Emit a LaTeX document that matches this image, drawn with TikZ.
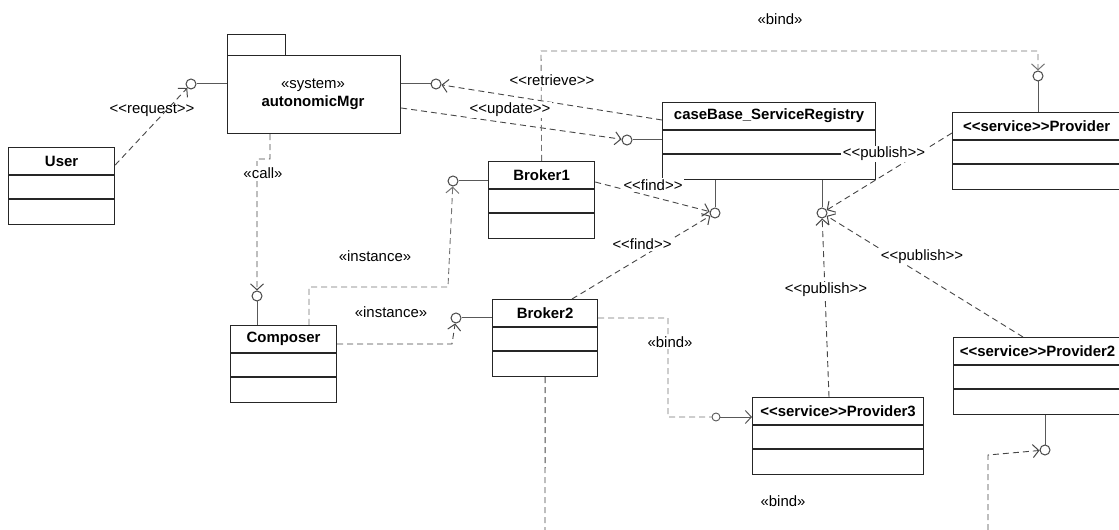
\documentclass[tikz,border=0pt]{standalone}
\usepackage{fontspec}
\setmainfont{Liberation Sans}
\usetikzlibrary{arrows.meta,calc}
\newcommand\stL{\textless\kern0pt\textless\kern0pt}
\newcommand\stR{\kern0pt\textgreater\kern0pt\textgreater}
\tikzset{
  box/.style={draw=black!85, line width=1.2bp, fill=white, rectangle, inner sep=0pt, anchor=north west},
  sepline/.style={draw=black!85, line width=1.2bp},
  ttl/.style={font=\fontsize{15}{18}\selectfont\bfseries, inner sep=0pt},
  lbl/.style={inner sep=1.5bp},
  wlbl/.style={fill=white, inner sep=1.5bp},
  dep/.style={draw=black!72, dash pattern=on 6bp off 4bp, line width=0.9bp},
  depl/.style={draw=black!55, dash pattern=on 6bp off 4bp, line width=0.9bp},
  lol/.style={draw=black!65, line width=1bp},
  ball/.style={circle, draw=black!72, line width=1bp, fill=white, minimum size=10bp, inner sep=0pt},
  sball/.style={circle, draw=black!65, line width=0.9bp, fill=white, minimum size=8bp, inner sep=0pt},
  barb/.style={-{Straight Barb[length=6bp,width=13bp,line width=1bp]}}
}
\newcommand\umlcls[5]{%
  \node[box, minimum width=#4bp, minimum height=77bp] (#1) at (#2,#3) {};
  \draw[sepline] ([yshift=-28bp]#1.north west) -- ([yshift=-28bp]#1.north east);
  \draw[sepline] ([yshift=-52bp]#1.north west) -- ([yshift=-52bp]#1.north east);
  \node[ttl] (#1-t) at ([yshift=-14bp]#1.north) {#5};
}
\begin{document}
\begin{tikzpicture}[x=1bp, y=-1bp, font=\fontsize{15}{18}\selectfont]
\clip (0,0) rectangle (1119,530);
\fill[white] (0,0) rectangle (1119,530);

% ---------- classes ----------
\umlcls{user}{8}{147}{106}{User}
\umlcls{composer}{230}{325}{106}{Composer}
\umlcls{broker1}{488}{161}{106}{Broker1}
\umlcls{broker2}{492}{299}{105}{Broker2}
\umlcls{cb}{662}{102}{213}{caseBase\_ServiceRegistry}
\umlcls{prov}{952}{112}{168}{\stL service\stR Provider}
\umlcls{prov2}{953}{337}{168}{\stL service\stR Provider2}
\umlcls{prov3}{752}{397}{171}{\stL service\stR Provider3}

% ---------- package ----------
\node[box, minimum width=58bp, minimum height=21bp] (amgrTab) at (227,34) {};
\node[box, minimum width=173bp, minimum height=78bp] (amgr) at (227,55) {};
\node[lbl] (amgrS) at (313,85) {«system»};
\node[ttl] (amgrT) at (313,103) {autonomicMgr};

% ---------- lollipops ----------
\node[ball] (bReq) at (191,84) {};
\node[ball] (bRet) at (436,84) {};
\node[ball] (bUpd) at (627,140) {};
\node[ball] (bB1) at (453,181) {};
\node[ball] (bB2) at (456,318) {};
\node[ball] (bCall) at (257,296) {};
\node[ball] (bProv) at (1038,76) {};
\node[ball] (bFind) at (715,213) {};
\node[ball] (bPub) at (822,213) {};
\node[ball] (bP2) at (1045,450) {};
\node[sball] (bBind) at (716,417) {};

\draw[lol] (bReq) -- (bReq -| amgr.west);
\draw[lol] (bRet) -- (bRet -| amgr.east);
\draw[lol] (bUpd) -- (bUpd -| cb.west);
\draw[lol] (bB1) -- (bB1 -| broker1.west);
\draw[lol] (bB2) -- (bB2 -| broker2.west);
\draw[lol] (bCall) -- (bCall |- composer.north);
\draw[lol] (bProv) -- (bProv |- prov.north);
\draw[lol] (bFind) -- (bFind |- cb.south);
\draw[lol] (bPub) -- (bPub |- cb.south);
\draw[lol] (bP2) -- (bP2 |- prov2.south);

% ---------- coordinates for bends / free ends ----------
\coordinate (callA) at (270,159);
\coordinate (i1) at (448,287);
\coordinate (i2) at (452,344);
\coordinate (bt1) at (541,51);
\coordinate (bt2) at (1038,51);
\coordinate (bd1) at (668,318);
\coordinate (bd2) at (668,417);
\coordinate (b3a) at (988,540);
\coordinate (b3b) at (988,455);
\coordinate (b2end) at (545,540);

% ---------- connectors ----------
\draw[dep, barb] ([yshift=-18bp]user.north east) -- (bReq);
\draw[dep, barb] ([xshift=43bp]amgr.south west) -- (callA) -| (bCall);
\draw[depl, barb] ([xshift=79bp]composer.north west) |- (i1) -- (bB1);
\draw[dep, barb] ([yshift=-19bp]composer.north east) -- (i2) -- (bB2);
\draw[dep, barb] ([yshift=-18bp]cb.north west) -- (bRet);
\draw[dep, barb] ([yshift=-53bp]amgr.north east) -- (bUpd);
\draw[depl, barb] (broker1.north) -- (bt1) -- (bt2) -- (bProv);
\draw[dep, barb] ([yshift=-21bp]broker1.north east) -- (bFind);
\draw[dep, barb] ([xshift=80bp]broker2.north west) -- (bFind);
\draw[dep, barb] ([yshift=-21bp]prov.north west) -- (bPub);
\draw[dep, barb] ([xshift=77bp]prov3.north west) -- (bPub);
\draw[dep, barb] ([xshift=70bp]prov2.north west) -- (bPub);
\draw[depl] ([yshift=-19bp]broker2.north east) -- (bd1) -- (bd2) -- (bBind);
\draw[lol, barb] (bBind) -- (bBind -| prov3.west);
\draw[dep, barb] (b3a) -- (b3b) -- (bP2);
\draw[dep] (broker2.south) -- (b2end);

% ---------- labels ----------
\node[lbl] (lBindTop) at (780,19) {«bind»};
\node[lbl] (lReq) at (152,110) {\stL request\stR};
\node[wlbl] (lCall) at (263,173) {«call»};
\node[wlbl] (lRet) at (552,80) {\stL retrieve\stR};
\node[wlbl] (lUpd) at (510,110) {\stL update\stR};
\node[lbl] (lInst1) at (375,256) {«instance»};
\node[lbl] (lInst2) at (391,312) {«instance»};
\node[wlbl] (lFind1) at (653,185) {\stL find\stR};
\node[wlbl] (lFind2) at (642,244) {\stL find\stR};
\node[wlbl] (lPub1) at (884,154) {\stL publish\stR};
\node[wlbl] (lPub2) at (922,257) {\stL publish\stR};
\node[wlbl] (lPub3) at (826,290) {\stL publish\stR};
\node[wlbl] (lBind2) at (670,342) {«bind»};
\node[lbl] (lBind3) at (783,501) {«bind»};
\end{tikzpicture}
\end{document}
